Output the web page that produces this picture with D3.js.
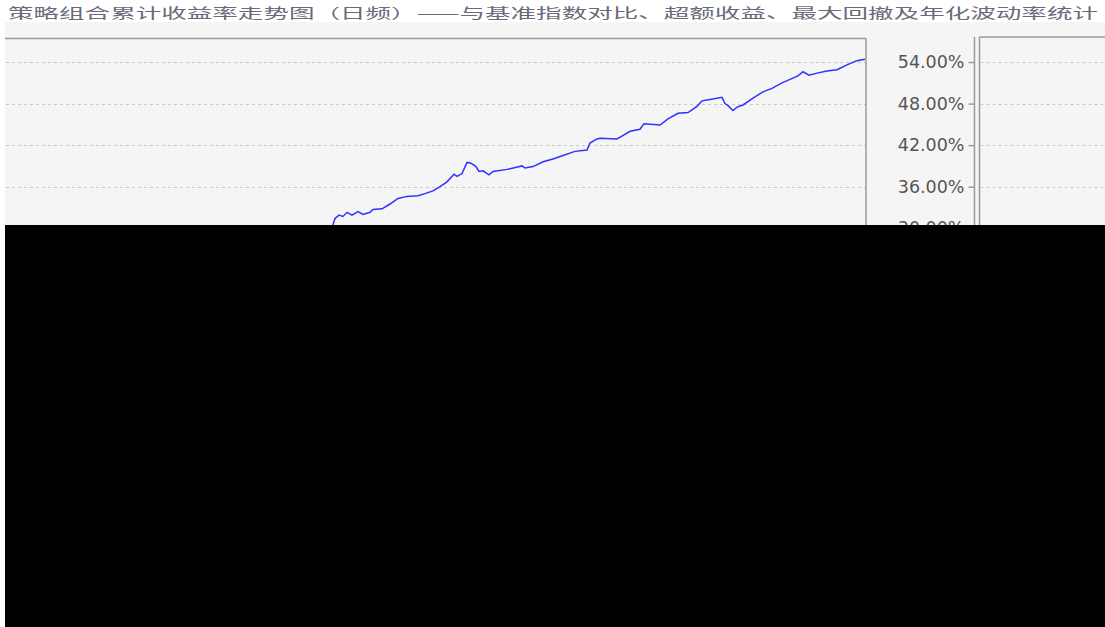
<!DOCTYPE html>
<html>
<head>
<meta charset="utf-8">
<script src="https://cdn.jsdelivr.net/npm/d3@7"></script>
<style>
  body { margin: 0; background: #ffffff; overflow: hidden; }
  #chart { width: 1105px; height: 627px; }
</style>
</head>
<body>
<div id="chart"></div>
<script>
var width = 1105; var height = 627;

// trading-day index (x) and cumulative return in % (y)
var dayIndex = [325, 328, 330, 334, 338, 342, 347, 353, 358, 365, 368, 377, 385, 393, 402, 413, 420, 428,
  435, 442, 449, 452, 457, 462, 466, 471, 474, 478, 484, 488, 502, 517, 520, 528, 538, 548, 558, 570,
  582, 585, 592, 595, 612, 617, 625, 635, 639, 655, 663, 673, 683, 692, 697, 705, 717, 720, 723, 728,
  732, 738, 748, 758, 767, 777, 785, 793, 798, 804, 812, 822, 832, 842, 852, 860];
var cumReturn = [28.3, 30.5, 31.4, 31.9, 31.7, 32.3, 31.9, 32.4, 32.0, 32.3, 32.7, 32.8, 33.5, 34.3, 34.6,
  34.7, 35.0, 35.4, 36.0, 36.7, 37.8, 37.5, 37.9, 39.5, 39.4, 38.9, 38.2, 38.3, 37.7, 38.2, 38.5, 39.0,
  38.7, 38.9, 39.6, 40.0, 40.5, 41.1, 41.3, 42.3, 42.9, 43.0, 42.9, 43.3, 44.0, 44.3, 45.1, 44.9, 45.8,
  46.6, 46.7, 47.6, 48.4, 48.6, 48.9, 48.0, 47.7, 47.0, 47.5, 47.8, 48.8, 49.7, 50.2, 51.0, 51.5, 52.0,
  52.6, 52.1, 52.4, 52.7, 52.9, 53.6, 54.2, 54.4];
var yTicks = [0, 6, 12, 18, 24, 30, 36, 42, 48, 54];
var dayExtent = [0, 860];
var yExtent = [0, 57.4];

var title = "策略组合累计收益率走势图（日频）——与基准指数对比、超额收益、最大回撤及年化波动率统计";

var svg = d3.select("#chart").append("svg")
    .attr("width", width)
    .attr("height", height);

// gray chart background below the title strip
svg.append("rect")
    .attr("x", 5).attr("y", 22)
    .attr("width", width - 5).attr("height", height - 22)
    .attr("fill", "#f5f5f5");

svg.append("text")
    .attr("x", 8).attr("y", 18)
    .attr("textLength", 1090)
    .attr("lengthAdjust", "spacingAndGlyphs")
    .attr("font-family", "Noto Sans CJK SC")
    .attr("font-size", 14)
    .attr("fill", "#6a6a7a")
    .text(title);

var p1 = { left: 5, right: 866, top: 38.5 };
var p2 = { left: 979.5, right: width, top: 37 };
var plotBottom = 436;

var x = d3.scaleLinear().domain(dayExtent).range([p1.left, p1.right - 1]);
var y = d3.scaleLinear().domain(yExtent).range([plotBottom, p1.top]);

// gridlines for both panels
[p1, p2].forEach(function (p) {
  svg.append("g")
      .selectAll("line")
      .data(yTicks)
      .enter()
      .append("line")
      .attr("x1", p.left + 1)
      .attr("x2", p.right)
      .attr("y1", function (d) { return Math.round(y(d)) + 0.5; })
      .attr("y2", function (d) { return Math.round(y(d)) + 0.5; })
      .attr("stroke", "#c8c8c8")
      .attr("stroke-dasharray", "3,3");
});

// panel borders
var borders = svg.append("g").attr("stroke", "#9a9a9a").attr("stroke-width", 1.5);
borders.append("line").attr("x1", p1.left).attr("x2", p1.right).attr("y1", p1.top).attr("y2", p1.top);
borders.append("line").attr("x1", p1.right).attr("x2", p1.right).attr("y1", p1.top).attr("y2", height);
borders.append("line").attr("x1", p2.left).attr("x2", p2.right).attr("y1", p2.top).attr("y2", p2.top);
borders.append("line").attr("x1", p2.left).attr("x2", p2.left).attr("y1", p2.top).attr("y2", height);

// percentage axis sitting left of the second panel
var axis = svg.append("g")
    .attr("transform", "translate(974.5,0)")
    .call(d3.axisLeft(y)
        .tickValues(yTicks)
        .tickSize(6)
        .tickPadding(4)
        .tickFormat(function (d) { return d.toFixed(2) + "%"; }));
axis.select(".domain").attr("stroke", "#9a9a9a").attr("stroke-width", 1.5)
    .attr("d", "M0," + p2.top + "V" + height);
axis.selectAll(".tick line").attr("stroke", "#9a9a9a").attr("stroke-width", 1.5);
axis.selectAll(".tick text")
    .attr("font-family", "DejaVu Sans")
    .attr("font-size", 17.5)
    .attr("fill", "#555");

var line = d3.line()
    .x(function (d, i) { return x(dayIndex[i]); })
    .y(function (d) { return y(d); });

svg.append("path")
    .datum(cumReturn)
    .attr("d", line)
    .attr("fill", "none")
    .attr("stroke", "#3030ff")
    .attr("stroke-width", 1.5);

// blacked-out lower part of the picture
svg.append("rect")
    .attr("x", 5).attr("y", 225)
    .attr("width", width - 5).attr("height", height - 225)
    .attr("fill", "#000");
</script>
</body>
</html>
